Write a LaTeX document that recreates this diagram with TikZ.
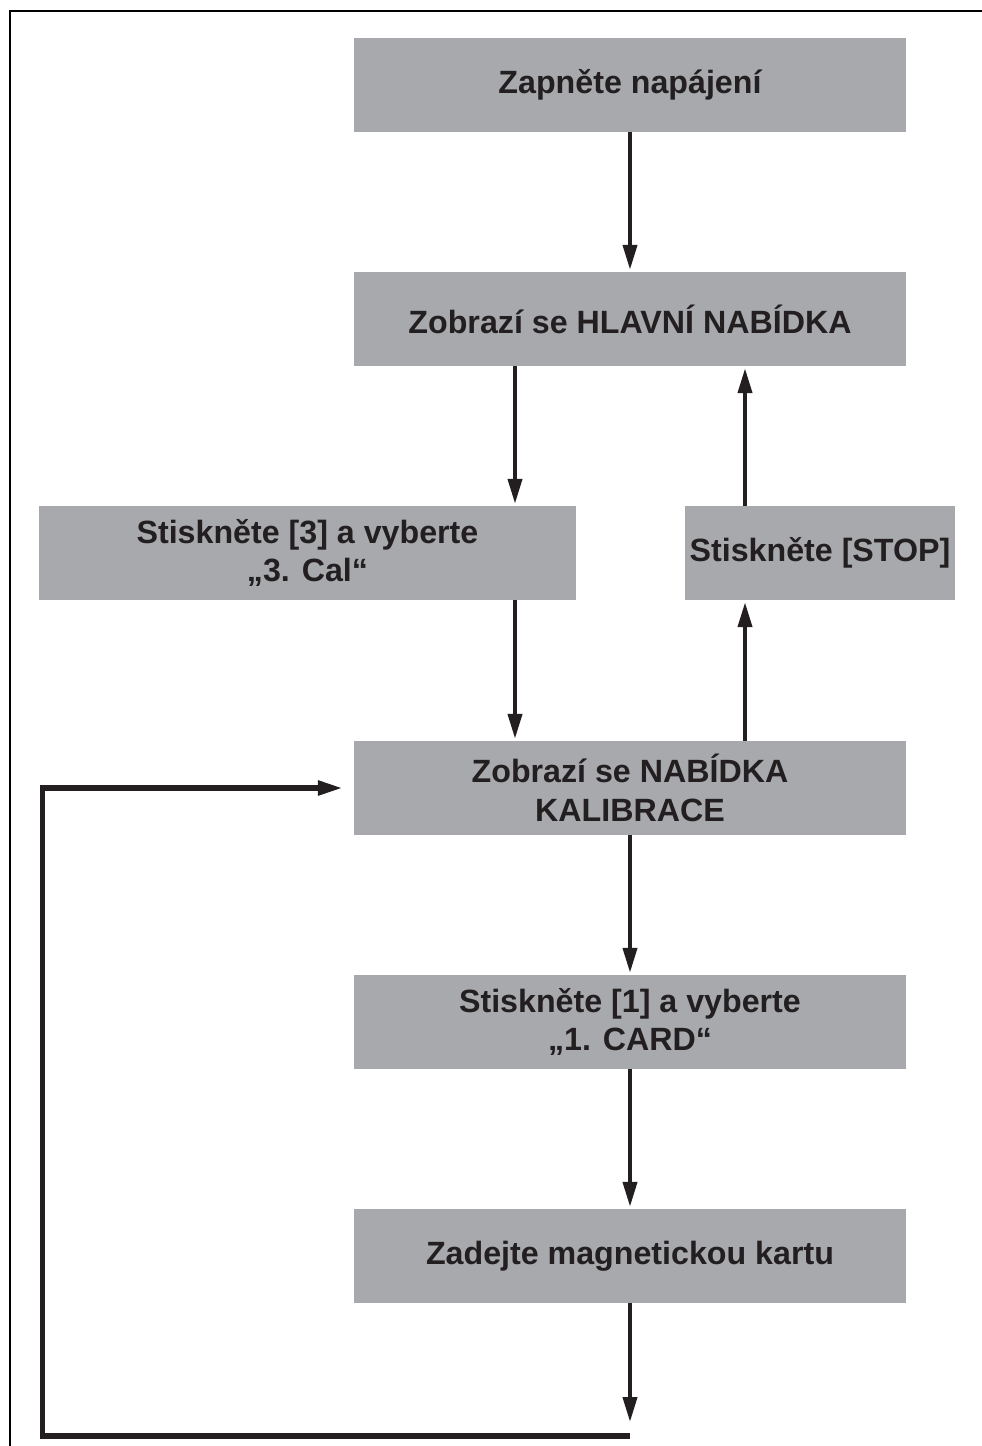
\documentclass[tikz,border=0pt]{standalone}
\usepackage{fontspec}
\setmainfont{Liberation Sans}
\usetikzlibrary{arrows.meta}
\definecolor{boxgray}{HTML}{A7A9AC}
\definecolor{ink}{HTML}{231F20}
\begin{document}
\begin{tikzpicture}[x=1pt,y=-1pt,
  box/.style={fill=boxgray,draw=none,inner sep=0pt,minimum height=94pt,align=center,text=ink,
    font=\fontsize{32.2}{38.5}\selectfont\bfseries},
  arr/.style={draw=ink,line width=4pt,-{Triangle[length=25pt,width=14pt]},shorten >=2pt},
  looparr/.style={draw=ink,line width=5.5pt,line join=miter,-{Triangle[length=25pt,width=14pt]},shorten >=11pt}]
\useasboundingbox (0,0) rectangle (982,1446);
\draw[line width=2pt] (10,1446) -- (10,11) -- (982,11);

\node[box,minimum width=552pt] (b1) at (630,84.5) {\rule{0pt}{24pt}Zapněte napájení};
\node[box,minimum width=552pt] (b2) at (630,319) {Zobrazí se HLAVNÍ NABÍDKA};
\node[box,minimum width=537pt] (b3) at (307.5,553) {Stiskněte [3] a vyberte\\„3. Cal“};
\node[box,minimum width=270pt] (b4) at (820,553) {Stiskněte [STOP]};
\node[box,minimum width=552pt] (b5) at (630,788) {Zobrazí se NABÍDKA\\KALIBRACE};
\node[box,minimum width=552pt] (b6) at (630,1022) {Stiskněte [1] a vyberte\\„1. CARD“};
\node[box,minimum width=552pt] (b7) at (630,1256) {Zadejte magnetickou kartu};

\coordinate (xl) at (515,0);
\coordinate (xr) at (745,0);
\coordinate (ae) at (630,1422);
\coordinate (lb) at (630,1436);
\coordinate (ll) at (42.5,1436);

\draw[arr] (b1) -- (b2);
\draw[arr] (b2.south -| xl) -- (b3.north -| xl);
\draw[arr] (b3.south -| xl) -- (b5.north -| xl);
\draw[arr] (b5.north -| xr) -- (b4.south -| xr);
\draw[arr] (b4.north -| xr) -- (b2.south -| xr);
\draw[arr] (b5) -- (b6);
\draw[arr] (b6) -- (b7);
\draw[arr,shorten >=0pt] (b7) -- (ae);
\draw[looparr] (lb) -- (ll) |- (b5.west);
\end{tikzpicture}
\end{document}
